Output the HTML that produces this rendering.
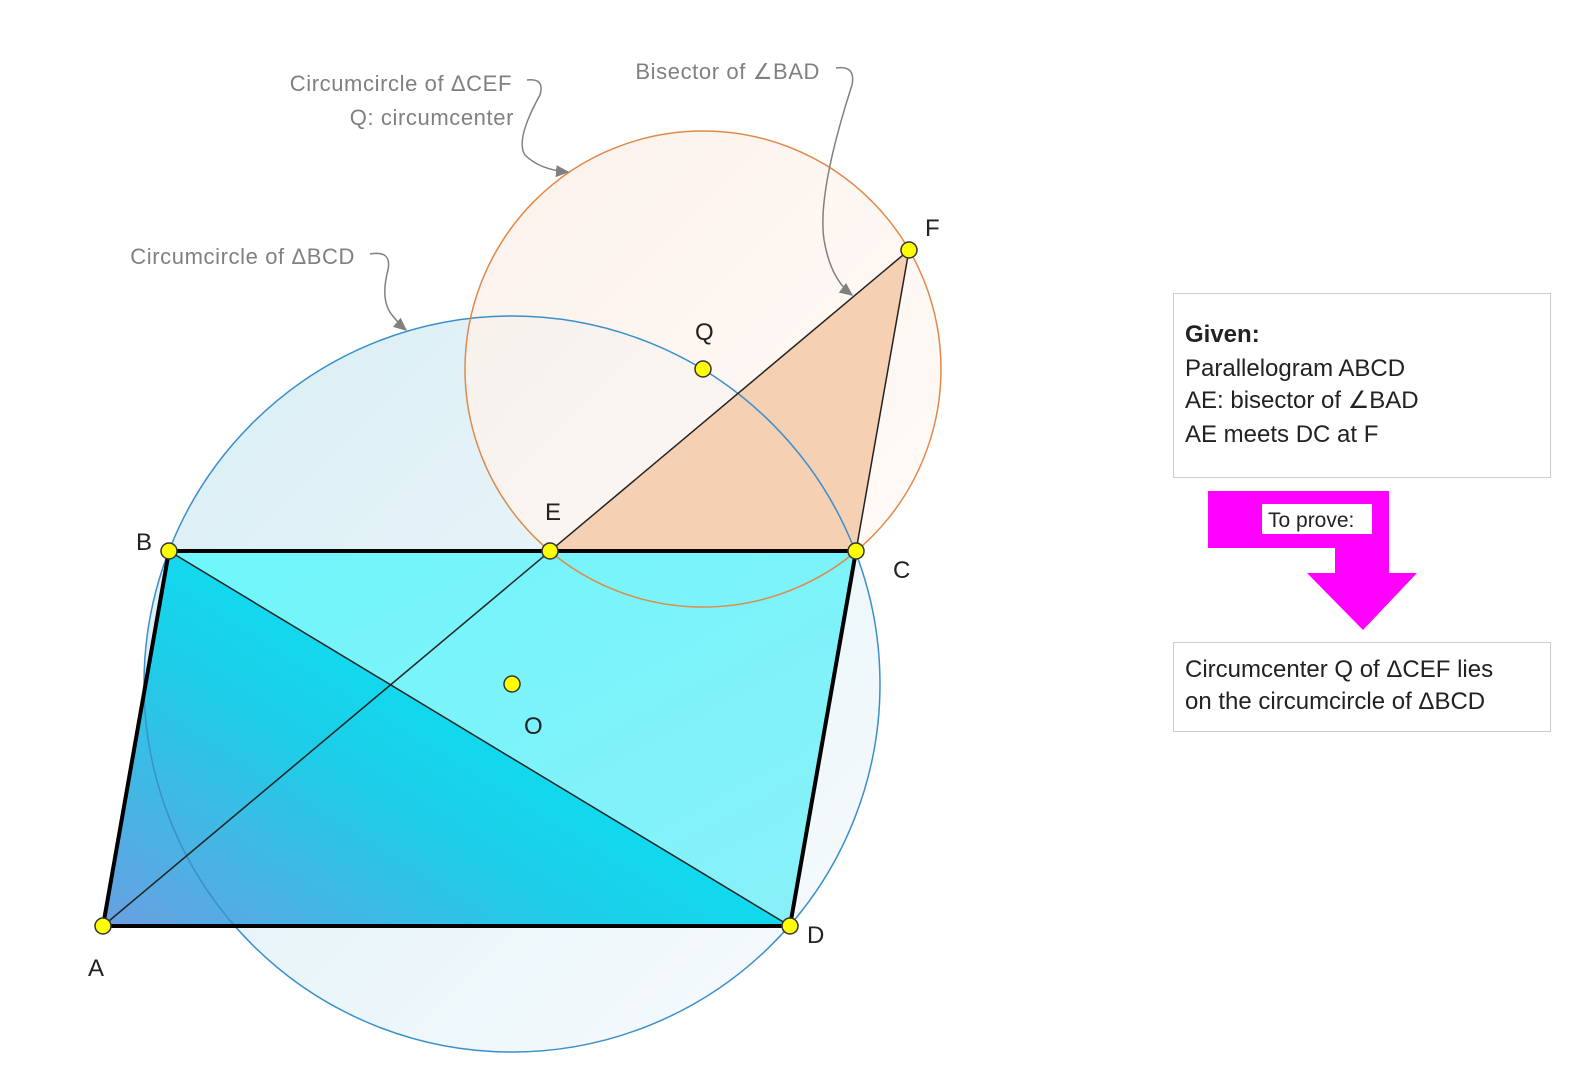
<!DOCTYPE html>
<html><head><style>
body{margin:0;background:#fff;width:1578px;height:1080px;overflow:hidden;font-family:"Liberation Sans",sans-serif}
svg{position:absolute;left:0;top:0}
</style></head><body>
<svg width="1578" height="1080" viewBox="0 0 1578 1080">
<defs>
<linearGradient id="cb" x1="0" y1="0" x2="1" y2="1">
<stop offset="0" stop-color="#d8eef5"/><stop offset="1" stop-color="#f8fbfd"/></linearGradient>
<linearGradient id="cq" x1="0" y1="0" x2="1" y2="1">
<stop offset="0" stop-color="#fbefe8"/><stop offset="1" stop-color="#fffaf6"/></linearGradient>
<linearGradient id="t1" x1="0" y1="1" x2="0.8" y2="0.3">
<stop offset="0" stop-color="#6a9fe0"/><stop offset="0.5" stop-color="#1ecde8"/><stop offset="1" stop-color="#00eaf5"/></linearGradient>
<linearGradient id="t2" x1="0" y1="0" x2="1" y2="1">
<stop offset="0" stop-color="#6ff6fb"/><stop offset="1" stop-color="#8af0f8"/></linearGradient>
<marker id="ar" markerWidth="10" markerHeight="10" refX="8" refY="5" orient="auto"><path d="M0,1 L9,5 L0,9 z" fill="#808080"/></marker>
</defs>
<circle cx="512" cy="684" r="368" fill="url(#cb)"/>
<circle cx="703" cy="369" r="238" fill="url(#cq)" opacity="0.85"/>
<polygon points="169,551 856,551 790,926" fill="url(#t2)"/>
<polygon points="103,926 169,551 790,926" fill="url(#t1)"/>
<polygon points="550,551 909,250 856,551" fill="#f6d0b2"/>
<circle cx="512" cy="684" r="368" fill="none" stroke="#3a8fcc" stroke-width="1.5"/>
<circle cx="703" cy="369" r="238" fill="none" stroke="#e0894a" stroke-width="1.5"/>
<line x1="103" y1="926" x2="909" y2="250" stroke="#222" stroke-width="1.5"/>
<line x1="169" y1="551" x2="790" y2="926" stroke="#222" stroke-width="1.5"/>
<line x1="909" y1="250" x2="856" y2="551" stroke="#222" stroke-width="1.5"/>
<polygon points="103,926 169,551 856,551 790,926" fill="none" stroke="#000" stroke-width="4"/>
<g fill="#ffff00" stroke="#333" stroke-width="1.5">
<circle cx="103" cy="926" r="8"/><circle cx="169" cy="551" r="8"/><circle cx="856" cy="551" r="8"/>
<circle cx="790" cy="926" r="8"/><circle cx="550" cy="551" r="8"/><circle cx="909" cy="250" r="8"/>
<circle cx="703" cy="369" r="8"/><circle cx="512" cy="684" r="8"/></g>
<g font-size="24" fill="#222">
<text x="88" y="976">A</text><text x="136" y="550">B</text><text x="893" y="578">C</text>
<text x="807" y="943">D</text><text x="545" y="520">E</text><text x="925" y="236">F</text>
<text x="695" y="340">Q</text><text x="524" y="734">O</text></g>
<g font-size="22" fill="#808080" text-anchor="end" letter-spacing="0.6">
<text x="512" y="91">Circumcircle of ΔCEF</text>
<text x="514" y="125">Q: circumcenter</text>
<text x="820" y="79">Bisector of ∠BAD</text>
<text x="355" y="264">Circumcircle of ΔBCD</text></g>
<g fill="none" stroke="#808080" stroke-width="1.5">
<path d="M527,80 Q545,78 540,95 Q515,140 525,155 Q540,170 568,172" marker-end="url(#ar)"/>
<path d="M836,68 Q856,65 852,85 Q815,200 825,245 Q832,280 852,295" marker-end="url(#ar)"/>
<path d="M370,254 Q392,250 388,270 Q380,300 392,315 Q400,325 406,330" marker-end="url(#ar)"/>
</g>
<rect x="1173.5" y="293.5" width="377" height="184" fill="#fff" stroke="#ccc"/>
<rect x="1173.5" y="642.5" width="377" height="89" fill="#fff" stroke="#ccc"/>
<polygon points="1208,491 1389,491 1389,573 1417,573 1363,630 1307,573 1335,573 1335,548 1208,548" fill="#ff00ff"/>
<rect x="1262" y="504" width="110" height="30" fill="#fff"/>
<g font-size="24" fill="#222">
<text x="1185" y="342" font-weight="bold">Given:</text>
<text x="1185" y="376">Parallelogram ABCD</text>
<text x="1185" y="408">AE: bisector of ∠BAD</text>
<text x="1185" y="442">AE meets DC at F</text>
<text x="1185" y="677">Circumcenter Q of ΔCEF lies</text>
<text x="1185" y="709">on the circumcircle of ΔBCD</text>
<text x="1268" y="527" font-size="21">To prove:</text></g>
</svg>
</body></html>
